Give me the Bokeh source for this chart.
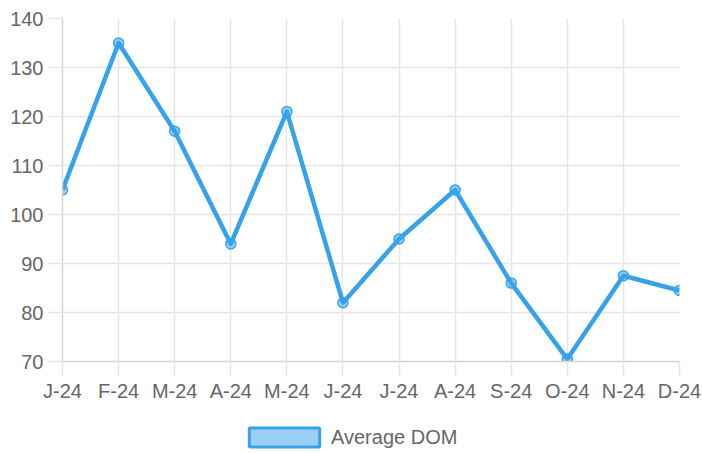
from bokeh.plotting import figure
from bokeh.models import Range1d, FixedTicker, Legend, LegendItem, ColumnDataSource
from bokeh.layouts import column
from bokeh.embed import file_html
from bokeh.resources import INLINE

months = ["J-24", "F-24", "M-24", "A-24", "M-24", "J-24", "J-24", "A-24", "S-24", "O-24", "N-24", "D-24"]
avg_dom = [105, 135, 117, 94, 121, 82, 95, 105, 86, 70.5, 87.5, 84.5]
y_ticks = [70, 80, 90, 100, 110, 120, 130, 140]
series_name = "Average DOM"

BLUE = "#36A2EB"
GRID = "#e6e6e6"
AXIS = "#d4d4d4"
TXT = "#666666"
FONT = "Liberation Sans"
FS = "20px"

xs = list(range(len(months)))
src = ColumnDataSource(dict(x=xs, y=avg_dom))

W, H_MAIN, H_LEG = 702, 410, 43
p = figure(width=W, height=H_MAIN, output_backend="svg", toolbar_location=None,
           x_range=Range1d(0, len(months) - 1), y_range=Range1d(min(y_ticks), max(y_ticks)),
           min_border_left=62, min_border_right=W - 679, min_border_top=18,
           min_border_bottom=H_MAIN - 361)
p.outline_line_color = None
p.background_fill_color = "white"

p.line("x", "y", source=src, line_color=BLUE, line_width=4.5, line_join="round")
p.scatter("x", "y", source=src, size=10, fill_color=BLUE, fill_alpha=0.5,
          line_color=BLUE, line_width=1.5)

p.xaxis.ticker = FixedTicker(ticks=xs)
p.xaxis.major_label_overrides = {i: m for i, m in zip(xs, months)}
p.yaxis.ticker = FixedTicker(ticks=y_ticks)

for ax in (p.xaxis[0], p.yaxis[0]):
    ax.axis_line_color = AXIS
    ax.axis_line_width = 1.5
    ax.major_tick_line_color = GRID
    ax.major_tick_line_width = 1.5
    ax.major_tick_out = 14
    ax.major_tick_in = 0
    ax.minor_tick_line_color = None
    ax.major_label_text_font = FONT
    ax.major_label_text_font_size = FS
    ax.major_label_text_color = TXT
p.xaxis.major_label_standoff = 4
p.yaxis.major_label_standoff = 5

p.xgrid.ticker = FixedTicker(ticks=xs)
p.ygrid.ticker = FixedTicker(ticks=y_ticks)
p.grid.grid_line_color = GRID
p.grid.grid_line_width = 1.5

# legend strip below the chart (its frame is aligned with the main frame)
lg = figure(width=W, height=H_LEG, output_backend="svg", toolbar_location=None,
            x_range=Range1d(0, 1), y_range=Range1d(0, 1),
            min_border_left=0, min_border_right=0, min_border_top=0, min_border_bottom=0)
lg.axis.visible = False
lg.grid.visible = False
lg.outline_line_color = None
# swatch source lies outside the visible range; only its legend entry shows
hidden = ColumnDataSource(dict(l=[5], r=[6], b=[5], t=[6]))
swatch = lg.quad(left="l", right="r", bottom="b", top="t", source=hidden,
                 fill_color=BLUE, fill_alpha=0.5, line_color=BLUE, line_width=3)
legend = Legend(items=[LegendItem(label=series_name, renderers=[swatch])],
                location=(178, 4), orientation="horizontal",
                glyph_width=88, glyph_height=24, padding=0, margin=0,
                border_line_alpha=0, background_fill_alpha=0,
                label_text_font=FONT, label_text_font_size=FS, label_text_color=TXT,
                label_standoff=3)
lg.add_layout(legend, "center")

layout = column(p, lg, spacing=0)
open("out.html", "w").write(file_html(layout, INLINE))
